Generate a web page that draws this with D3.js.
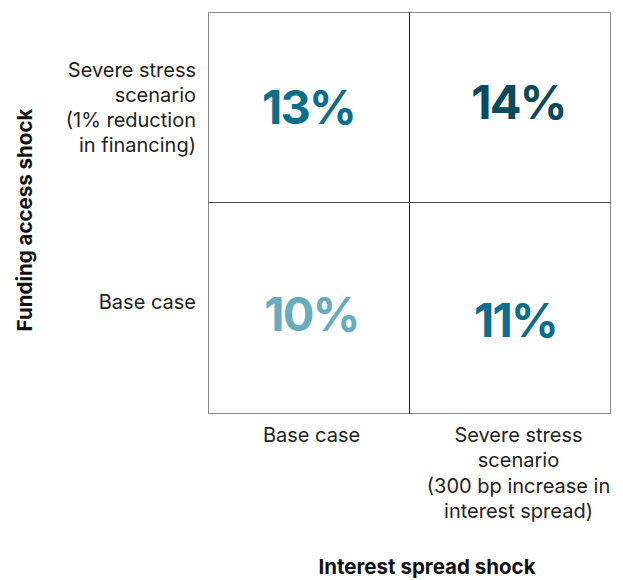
<!DOCTYPE html>
<html>
<head>
<meta charset="utf-8">
<script src="https://cdn.jsdelivr.net/npm/d3@7"></script>
<style>
  html, body { margin: 0; padding: 0; background: #fff; }
  svg { display: block; font-family: Inter, "Noto Sans", sans-serif; }
</style>
</head>
<body>
<svg id="chart" width="623" height="580"></svg>
<script>
// Interest spread shock (columns) × funding access shock (rows)
const interestShocks = ["Base case", "Severe stress"];
const fundingShocks = ["Severe stress", "Base case"];   // top row first
const interestLabels = [["Base case"], ["Severe stress", "scenario", "(300 bp increase in", "interest spread)"]];
const fundingLabels = [["Severe stress", "scenario", "(1% reduction", "in financing)"], ["Base case"]];
// Outcome per cell, [funding row][interest column], in percent
const outcomeRows = [
  [13, 14],
  [10, 11]
];

const svg = d3.select("#chart");
const grid = { left: 208, right: 610, top: 12, mid: 202, bottom: 413 };

const x = d3.scaleBand().domain(interestShocks).range([grid.left, grid.right]);
// rows are not of equal height: top edge and height of each row
const rowTop = d3.scaleOrdinal().domain(fundingShocks).range([grid.top, grid.mid]);
const rowHeight = d3.scaleOrdinal().domain(fundingShocks).range([grid.mid - grid.top, grid.bottom - grid.mid]);
const rowCentre = f => rowTop(f) + rowHeight(f) / 2;

const colour = d3.scaleThreshold()
  .domain([11, 14])
  .range(["#6aacbf", "#0b6e8a", "#0b4a5d"]);

const cells = [];
fundingShocks.forEach((f, r) => interestShocks.forEach((i, c) => {
  cells.push({ row: r, col: c, funding: f, interest: i, value: outcomeRows[r][c] });
}));

// small optical nudges of each figure inside its cell
const nudge = [[0, 0], [9, -5], [3, 7], [6, 13]];
// vertical nudge of the row labels
const rowLabelShift = [0, -6];

// cell grid: grey outer frame, dark inner dividers
svg.append("rect")
  .attr("x", grid.left + 0.5).attr("y", grid.top + 0.5)
  .attr("width", grid.right - grid.left).attr("height", grid.bottom - grid.top)
  .attr("fill", "none").attr("stroke", "#8a8a8a").attr("stroke-width", 1);

svg.append("line")
  .attr("x1", x(interestShocks[1]) + 0.5).attr("x2", x(interestShocks[1]) + 0.5)
  .attr("y1", grid.top).attr("y2", grid.bottom + 1)
  .attr("stroke", "#1a1a1a").attr("stroke-width", 1);
svg.append("line")
  .attr("x1", grid.left).attr("x2", grid.right + 1)
  .attr("y1", rowTop(fundingShocks[1]) + 0.5).attr("y2", rowTop(fundingShocks[1]) + 0.5)
  .attr("stroke", "#4a4a4a").attr("stroke-width", 1);

svg.selectAll("text.value")
  .data(cells)
  .join("text")
  .attr("class", "value")
  .attr("x", (d, k) => x(d.interest) + x.bandwidth() / 2 + nudge[k][0])
  .attr("y", (d, k) => rowCentre(d.funding) + nudge[k][1])
  .attr("dy", "0.36em")
  .attr("text-anchor", "middle")
  .attr("font-size", 47)
  .attr("font-weight", 700)
  .attr("letter-spacing", "-1.8px")
  .attr("fill", d => colour(d.value))
  .text(d => d.value + "%");

// row labels (funding access shock)
const lineH = 25;
fundingShocks.forEach((f, r) => {
  const lines = fundingLabels[r];
  const cy = rowCentre(f) + rowLabelShift[r];
  const t = svg.append("text")
    .attr("text-anchor", "end")
    .attr("font-size", 20)
    .attr("fill", "#222");
  lines.forEach((ln, k) => {
    t.append("tspan")
      .attr("x", 196)
      .attr("y", cy + (k - (lines.length - 1) / 2) * lineH)
      .attr("dy", "0.35em")
      .text(ln);
  });
});

// column labels (interest spread shock)
interestShocks.forEach((s, c) => {
  const lines = interestLabels[c];
  const cx = x(s) + x.bandwidth() / 2 + (c === 0 ? 3 : 9);
  const t = svg.append("text")
    .attr("text-anchor", "middle")
    .attr("font-size", 20)
    .attr("fill", "#222");
  lines.forEach((ln, k) => {
    t.append("tspan")
      .attr("x", cx)
      .attr("y", 442 + k * 25.3)
      .text(ln);
  });
});

// axis titles
svg.append("text")
  .attr("transform", "translate(32,220) rotate(-90)")
  .attr("text-anchor", "middle")
  .attr("font-size", 20.5)
  .attr("font-weight", 700)
  .attr("fill", "#111")
  .text("Funding access shock");

svg.append("text")
  .attr("x", 427).attr("y", 574)
  .attr("text-anchor", "middle")
  .attr("font-size", 20.5)
  .attr("font-weight", 700)
  .attr("fill", "#111")
  .text("Interest spread shock");
</script>
</body>
</html>
